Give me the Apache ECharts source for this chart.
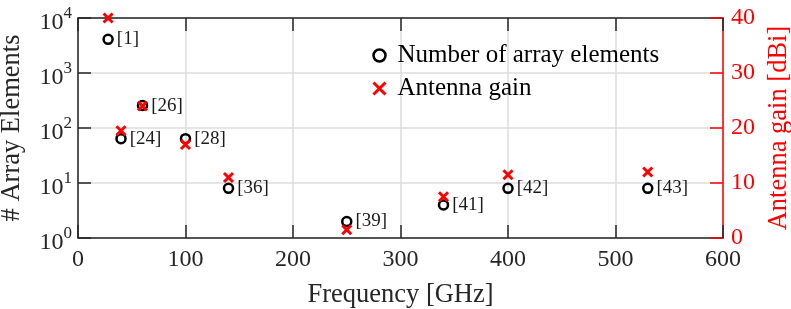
<!DOCTYPE html>
<html><head><meta charset="utf-8">
<script src="https://cdn.jsdelivr.net/npm/echarts@6/dist/echarts.min.js"></script>
<style>html,body{margin:0;padding:0;background:#fff}#c{width:791px;height:309px}</style>
</head><body><div id="c"></div>
<script>
const freq = [28, 60, 40, 100, 140, 250, 340, 400, 530];
const elements = [4096, 256, 64, 64, 8, 2, 4, 8, 8];
const gain = [40, 24, 19.5, 17, 11, 1.5, 7.5, 11.5, 12];
const refs = ['[1]','[26]','[24]','[28]','[36]','[39]','[41]','[42]','[43]'];
const xTicks = [0, 100, 200, 300, 400, 500, 600];

const F = 'Liberation Serif';
const chart = echarts.init(document.getElementById('c'));
const elemData = freq.map((f, i) => ({value: [f, elements[i]], name: refs[i]}));
const gainData = freq.map((f, i) => [f, gain[i]]);
const crossPath = 'path://M0,0L10,10M10,0L0,10';

chart.setOption({
  animation: false,
  textStyle: {fontFamily: F},
  grid: {left: 78, right: 68, top: 18, bottom: 71, containLabel: false, outerBoundsMode: 'none'},
  legend: {
    orient: 'vertical', left: 366, top: 38, itemGap: 8, itemWidth: 20, itemHeight: 12,
    textStyle: {fontFamily: F, fontSize: 25, color: '#000', padding: [0,0,0,3]},
    data: [
      {name: 'Number of array elements', icon: 'circle',
       itemStyle: {color: 'rgba(0,0,0,0)', borderColor: '#000', borderWidth: 2.5, opacity: 1}},
      {name: 'Antenna gain', icon: crossPath,
       itemStyle: {color: 'none', borderColor: '#ff0000', borderWidth: 3, opacity: 1}}
    ]
  },
  xAxis: [{
    type: 'value', min: 0, max: 600, interval: 100, position: 'bottom',
    name: 'Frequency [GHz]', nameLocation: 'middle', nameGap: 44,
    nameTextStyle: {fontFamily: F, fontSize: 26.5, color: '#262626'},
    axisLine: {onZero: false, lineStyle: {color: '#262626', width: 1.5}},
    axisTick: {inside: true, length: 13, lineStyle: {color: '#262626', width: 1.5}},
    axisLabel: {fontFamily: F, fontSize: 24, color: '#262626', margin: 10,
      formatter: v => xTicks.includes(v) ? String(v) : ''},
    splitLine: {show: true, lineStyle: {color: '#dcdcdc', width: 1.5}}
  }, {
    type: 'value', min: 0, max: 600, interval: 100, position: 'top',
    axisLine: {onZero: false, lineStyle: {color: '#262626', width: 1.5}},
    axisTick: {inside: true, length: 13, lineStyle: {color: '#262626', width: 1.5}},
    axisLabel: {show: false}, splitLine: {show: false}
  }],
  yAxis: [{
    type: 'log', logBase: 10, min: 1, max: 10000, position: 'left',
    name: '# Array Elements', nameLocation: 'middle', nameGap: 52, nameRotate: 90,
    nameTextStyle: {fontFamily: F, fontSize: 26.5, color: '#262626'},
    axisLine: {show: true, onZero: false, lineStyle: {color: '#262626', width: 1.5}},
    axisTick: {show: true, inside: true, length: 13, lineStyle: {color: '#262626', width: 1.5}},
    axisLabel: {
      fontFamily: F, color: '#262626', margin: 6,
      formatter: v => '{b|10}{s|' + Math.round(Math.log10(v)) + '}',
      rich: {
        b: {fontFamily: F, fontSize: 24, color: '#262626', padding: [10, 0, 0, 0]},
        s: {fontFamily: F, fontSize: 17, color: '#262626', padding: [0, 0, 8, 0]}
      }
    },
    splitLine: {show: true, lineStyle: {color: '#dcdcdc', width: 1.5}}
  }, {
    type: 'value', min: 0, max: 40, interval: 10, position: 'right',
    name: 'Antenna gain [dBi]', nameLocation: 'middle', nameGap: 43, nameRotate: 90,
    nameTextStyle: {fontFamily: F, fontSize: 26.5, color: '#ff0000'},
    axisLine: {show: true, onZero: false, lineStyle: {color: '#ff0000', width: 1.5}},
    axisTick: {show: true, inside: true, length: 13, lineStyle: {color: '#ff0000', width: 1.5}},
    axisLabel: {fontFamily: F, fontSize: 24, color: '#ff0000', margin: 8},
    splitLine: {show: false}
  }],
  series: [{
    name: 'Number of array elements', type: 'scatter', xAxisIndex: 0, yAxisIndex: 0,
    symbol: 'circle', symbolSize: 9, z: 3,
    itemStyle: {color: 'rgba(0,0,0,0)', borderColor: '#000', borderWidth: 2.5, opacity: 1},
    label: {show: true, position: 'right', distance: 3, formatter: p => p.name,
      fontFamily: F, fontSize: 19, color: '#1a1a1a'},
    data: elemData
  }, {
    name: 'Antenna gain', type: 'scatter', xAxisIndex: 0, yAxisIndex: 1,
    symbol: crossPath, symbolSize: 9, z: 4,
    itemStyle: {color: 'none', borderColor: '#ff0000', borderWidth: 3, opacity: 1},
    data: gainData
  }]
});
</script></body></html>
